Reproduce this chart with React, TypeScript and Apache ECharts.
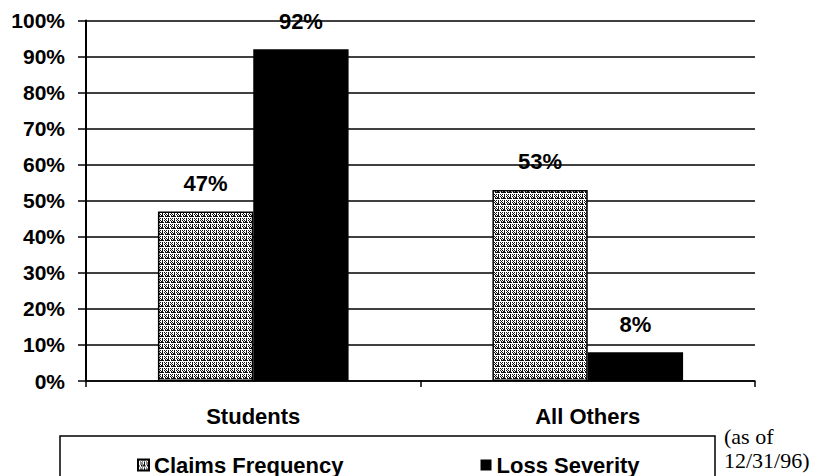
import React, { useEffect, useRef } from "react";
import * as echarts from "echarts";

const categories = ["Students", "All Others"];
const claimsFrequency = [47, 53];
const lossSeverity = [92, 8];
const seriesNames = ["Claims Frequency", "Loss Severity"];
const footnote = "(as of\n12/31/96)";

function makePattern(): HTMLCanvasElement {
  const c = document.createElement("canvas");
  c.width = 6;
  c.height = 6;
  const ctx = c.getContext("2d")!;
  ctx.fillStyle = "#ffffff";
  ctx.fillRect(0, 0, 6, 6);
  ctx.fillStyle = "#111111";
  const px = [
    [0, 0], [1, 0], [3, 0], [4, 0], [5, 0],
    [0, 2], [0, 3], [0, 5], [0, 4],
    [3, 3], [2, 4], [4, 2], [5, 5], [3, 5], [2, 2], [4, 4],
  ];
  px.forEach(([x, y]) => ctx.fillRect(x, y, 1, 1));
  return c;
}

export default function App() {
  const ref = useRef<HTMLDivElement>(null);
  useEffect(() => {
    document.body.style.margin = "0";
    if (!ref.current) return;
    const chart = echarts.init(ref.current, null, { renderer: "svg" });
    const pattern = makePattern();
    const font = "'Liberation Sans', Arial, sans-serif";
    chart.setOption({
      animation: false,
      backgroundColor: "#ffffff",
      grid: { left: 86, right: 66, top: 20.5, bottom: 95, containLabel: false },
      legend: {
        left: 132,
        top: 449,
        itemGap: 137,
        itemWidth: 11,
        itemHeight: 11,
        icon: "rect",
        textStyle: { fontSize: 22, fontWeight: "bold", color: "#000", fontFamily: font },
        data: seriesNames,
      },
      xAxis: {
        type: "category",
        data: categories,
        axisLine: { lineStyle: { color: "#000", width: 1.5 } },
        axisTick: { show: true, length: 6, lineStyle: { color: "#000", width: 1.5 } },
        axisLabel: { margin: 24, fontSize: 22, fontWeight: "bold", color: "#000", fontFamily: font },
      },
      yAxis: {
        type: "value",
        min: 0,
        max: 100,
        interval: 10,
        axisLine: { show: true, lineStyle: { color: "#000", width: 2 } },
        axisTick: { show: true, length: 8, lineStyle: { color: "#000", width: 1.5 } },
        axisLabel: {
          formatter: "{value}%",
          margin: 21,
          fontSize: 21,
          fontWeight: "bold",
          color: "#000",
          fontFamily: font,
        },
        splitLine: { show: true, lineStyle: { color: "#000", width: 1.5 } },
      },
      series: [
        {
          name: seriesNames[0],
          type: "bar",
          data: claimsFrequency,
          barCategoryGap: "43%",
          barGap: "0%",
          itemStyle: {
            color: { image: pattern, repeat: "repeat" } as any,
            borderColor: "#000",
            borderWidth: 1.5,
          },
          label: {
            show: true,
            position: "top",
            distance: 17,
            formatter: "{c}%",
            fontSize: 22,
            fontWeight: "bold",
            color: "#000",
            fontFamily: font,
          },
        },
        {
          name: seriesNames[1],
          type: "bar",
          data: lossSeverity,
          barCategoryGap: "43%",
          barGap: "0%",
          itemStyle: { color: "#000" },
          label: {
            show: true,
            position: "top",
            distance: 17,
            formatter: "{c}%",
            fontSize: 22,
            fontWeight: "bold",
            color: "#000",
            fontFamily: font,
          },
        },
      ],
      graphic: [
        {
          type: "rect",
          shape: { x: 60, y: 436, width: 655, height: 60 },
          style: { fill: "none", stroke: "#000", lineWidth: 1.5 },
          silent: true,
        },
        {
          type: "text",
          x: 724,
          y: 424,
          style: {
            text: footnote,
            font: "22px 'Liberation Serif', 'Times New Roman', serif",
            lineHeight: 24,
            fill: "#000",
          },
        },
      ],
    });
    return () => chart.dispose();
  }, []);
  return <div ref={ref} style={{ width: 821, height: 476 }} />;
}
